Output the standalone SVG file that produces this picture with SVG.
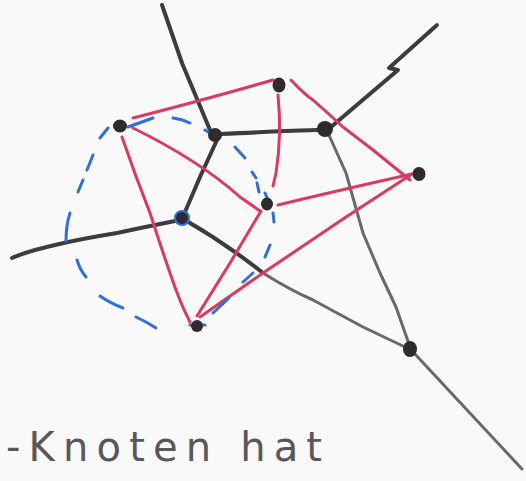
<svg xmlns="http://www.w3.org/2000/svg" width="526" height="481" viewBox="0 0 526 481">
<style>
.vor{fill:none;stroke:#3f3a3e;stroke-width:4;stroke-linecap:round;stroke-linejoin:round}
.vor2{fill:none;stroke:#6c676b;stroke-width:3;stroke-linecap:round;stroke-linejoin:round}
.del{fill:none;stroke:#d93a5f;stroke-width:3;stroke-linecap:round;stroke-linejoin:round}
.circ{fill:none;stroke:#2f6fd8;stroke-width:3;stroke-linecap:round}
.site{fill:#2e2a2d}
.vert{fill:#2e2a2d}
.txt{font-family:"DejaVu Sans","Liberation Sans",sans-serif;fill:#5a565a}
</style>
<rect width="526" height="481" fill="#f8f9f8"/>
<g id="connectors">
  <g id="voronoi-edges">
    <path class="vor" d="M162,5 L182,63 L210,130"/>
    <path class="vor" d="M220,134 Q245,133 263,132 T318,130"/>
    <path class="vor" d="M217,140 L200,177 L185,212"/>
    <path class="vor" d="M175,221 Q140,228 117,233 Q80,239 55,245 Q25,252 12,258"/>
    <path class="vor" d="M331,127 L398,70 L389,68 L437,25"/>
    <path class="vor2" d="M328,133 L346,173 L363,233 L380,273 L396,307 L410,347"/>
    <path class="vor" d="M185,220 Q225,243 263,273"/>
    <path class="vor2" d="M263,273 Q290,290 313,300 L363,327 L405,347"/>
    <path class="vor2" d="M414,353 L522,469"/>
  </g>
  <g id="delaunay-edges">
    <path class="del" d="M133,118 Q200,101 273,80"/>
    <path class="del" d="M133,128 Q200,161 240,197 L260,211"/>
    <path class="del" d="M122,137 Q135,175 150,213 Q162,250 170,273 Q180,303 190,322"/>
    <path class="del" d="M278,95 Q282,135 276,173 L273,186"/>
    <path class="del" d="M291,80 Q305,95 313,100 Q330,115 343,127 Q360,140 373,150 L410,180"/>
    <path class="del" d="M278,205 Q340,190 412,174"/>
    <path class="del" d="M200,317 L263,273 L346,217 L412,174"/>
    <path class="del" d="M261,211 L230,263 L197,316"/>
  </g>
  <g id="circumcircle">
    <path class="circ" d="M100,138 L108,128"/>
    <path class="circ" d="M87,170 L93,155"/>
    <path class="circ" d="M78,192 L83,180"/>
    <path class="circ" d="M66,241 Q66,225 70,213"/>
    <path class="circ" d="M77,260 Q80,270 86,277"/>
    <path class="circ" d="M100,296 Q110,303 123,308"/>
    <path class="circ" d="M136,317 Q147,322 156,328"/>
    <path class="circ" d="M190,325 L205,325"/>
    <path class="circ" d="M213,313 L229,298"/>
    <path class="circ" d="M243,282 L253,273"/>
    <path class="circ" d="M265,257 L270,245"/>
    <path class="circ" d="M273,213 L274,222"/>
    <path class="circ" d="M265,193 L268,200"/>
    <path class="circ" d="M257,183 L259,192"/>
    <path class="circ" d="M252,172 L256,178"/>
    <path class="circ" d="M235,147 L245,158"/>
    <path class="circ" d="M205,130 L210,133"/>
    <path class="circ" d="M173,118 Q182,119 190,123"/>
    <path class="circ" d="M128,127 L153,118"/>
  </g>
</g>
<g id="site-A"><ellipse class="site" cx="120" cy="126" rx="7" ry="6.5"/></g>
<g id="site-B"><ellipse class="site" cx="279" cy="85" rx="6.5" ry="7.5"/></g>
<g id="site-C"><ellipse class="site" cx="419" cy="174" rx="6.5" ry="7"/></g>
<g id="site-D"><ellipse class="site" cx="267" cy="204" rx="6" ry="6.5"/></g>
<g id="site-E"><ellipse class="site" cx="197" cy="326" rx="6" ry="6"/></g>
<g id="vertex-1"><circle class="vert" cx="215" cy="135" r="7"/></g>
<g id="vertex-2"><circle class="vert" cx="325" cy="129" r="8"/></g>
<g id="vertex-3"><circle class="vert" cx="182" cy="218" r="7"/><circle cx="182" cy="218" r="7" fill="none" stroke="#2f6fd8" stroke-width="2"/></g>
<g id="vertex-4"><ellipse class="vert" cx="410" cy="349" rx="7" ry="8"/></g>
<text class="txt" x="6" y="461" font-size="40" textLength="316" lengthAdjust="spacing">-Knoten hat</text>
</svg>
